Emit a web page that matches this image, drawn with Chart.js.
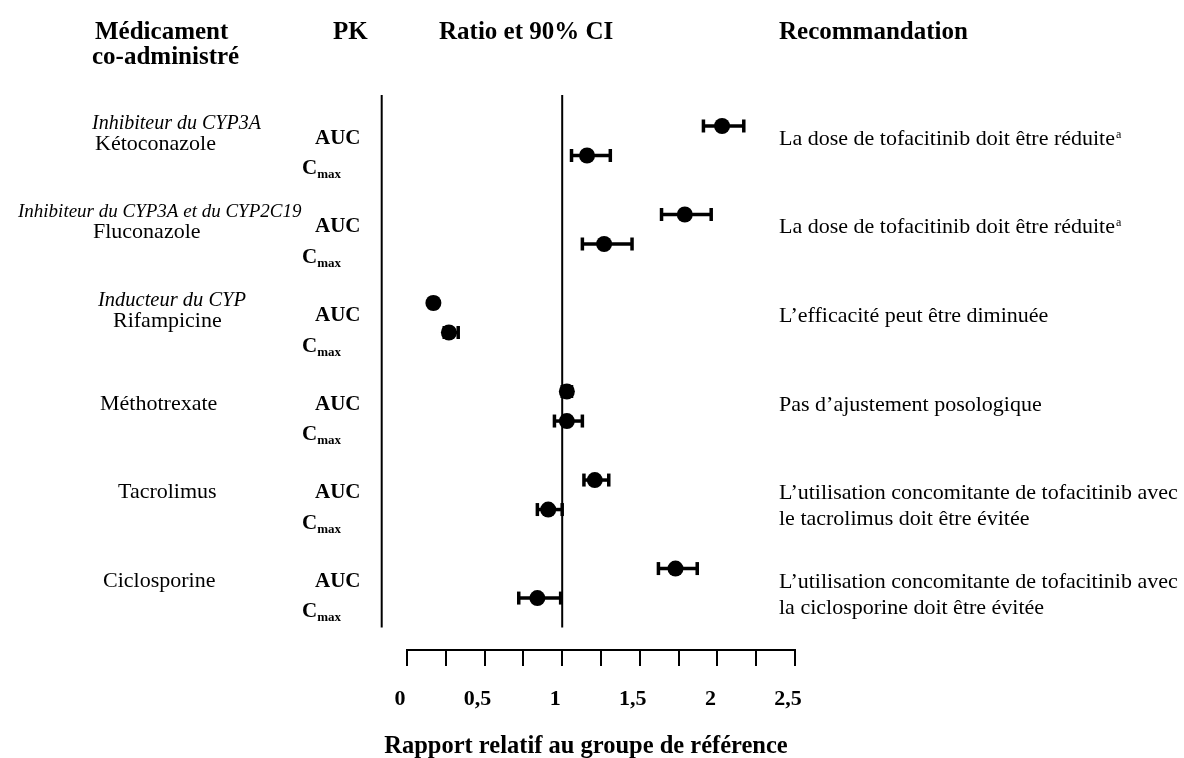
<!DOCTYPE html>
<html lang="fr">
<head>
<meta charset="UTF-8">
<title>Tofacitinib - interactions médicamenteuses</title>
<script src="https://cdn.jsdelivr.net/npm/chart.js"></script>
<style>
  body { margin: 0; background: #fff; }
  #wrap { width: 1184px; height: 758px; }
</style>
</head>
<body>
<div id="wrap"><canvas id="forest"></canvas></div>
<script>
// valeurs (rapport et IC 90%)
const drugs = ['Kétoconazole', 'Fluconazole', 'Rifampicine', 'Méthotrexate', 'Tacrolimus', 'Ciclosporine'];
const drugClasses = ['Inhibiteur du CYP3A', 'Inhibiteur du CYP3A et du CYP2C19', 'Inducteur du CYP', '', '', ''];
const pkParams = ['AUC', 'Cmax'];
const aucRatio = [2.03, 1.79, 0.17, 1.03, 1.21, 1.73];
const aucLow   = [1.91, 1.64, 0.15, 1.00, 1.14, 1.62];
const aucHigh  = [2.17, 1.96, 0.19, 1.06, 1.30, 1.87];
const cmaxRatio = [1.16, 1.27, 0.27, 1.03, 0.91, 0.84];
const cmaxLow   = [1.06, 1.13, 0.24, 0.95, 0.84, 0.72];
const cmaxHigh  = [1.31, 1.45, 0.33, 1.13, 1.00, 0.99];
const recommendations = [
  ['La dose de tofacitinib doit être réduite'],
  ['La dose de tofacitinib doit être réduite'],
  ['L’efficacité peut être diminuée'],
  ['Pas d’ajustement posologique'],
  ['L’utilisation concomitante de tofacitinib avec', 'le tacrolimus doit être évitée'],
  ['L’utilisation concomitante de tofacitinib avec', 'la ciclosporine doit être évitée']
];
const footnotes = ['a', 'a', '', '', '', ''];
const xTickLabels = [0, 0.5, 1, 1.5, 2, 2.5];
const referenceRatio = 1;
const headers = ['Médicament', 'co-administré', 'PK', 'Ratio et 90% CI', 'Recommandation'];
const xTitle = 'Rapport relatif au groupe de référence';

const serif = '"Liberation Serif", "Times New Roman", serif';
const yMin = -1.05, yMax = 17.76, lineEnd = 17;
const frameX = -0.163;
const row = (i, j) => i * 3 + j;

const ciSets = [];
drugs.forEach((d, i) => {
  [[aucLow, aucHigh], [cmaxLow, cmaxHigh]].forEach(([lo, hi], j) => {
    ciSets.push({
      type: 'line',
      data: [{x: lo[i], y: row(i, j)}, {x: hi[i], y: row(i, j)}],
      borderColor: '#000',
      borderWidth: 3.5,
      pointStyle: 'line',
      pointRotation: 90,
      pointRadius: 6.5,
      pointBorderWidth: 3.5,
      pointBorderColor: '#000',
      clip: false,
      order: 1
    });
  });
});

const points = [];
drugs.forEach((d, i) => {
  points.push({x: aucRatio[i], y: row(i, 0)});
  points.push({x: cmaxRatio[i], y: row(i, 1)});
});

const vline = (x) => ({
  type: 'line',
  indexAxis: 'y',
  data: [{x: x, y: yMin}, {x: x, y: lineEnd}],
  borderColor: '#000',
  borderWidth: 2,
  pointRadius: 0,
  clip: false,
  order: 2
});

// texte du tableau (colonnes gauche et droite) et titre de l'axe
const tableText = {
  id: 'tableText',
  afterDraw(chart) {
    const {ctx, scales: {y}} = chart;
    ctx.save();
    ctx.fillStyle = '#000';
    ctx.textAlign = 'left';
    ctx.textBaseline = 'alphabetic';

    ctx.font = `bold 25px ${serif}`;
    ctx.fillText(headers[0], 95, 39);
    ctx.fillText(headers[1], 92, 64);
    ctx.fillText(headers[2], 333, 39);
    ctx.fillText(headers[3], 439, 39);
    ctx.fillText(headers[4], 779, 39);

    const classX = [92, 18, 98];
    const classSize = [20, 19, 20.5];
    const nameX = [95, 93, 113, 100, 118, 103];

    drugs.forEach((name, i) => {
      const yA = y.getPixelForValue(row(i, 0));
      const yC = y.getPixelForValue(row(i, 1));

      if (drugClasses[i]) {
        ctx.font = `italic ${classSize[i]}px ${serif}`;
        ctx.fillText(drugClasses[i], classX[i], yA + 3);
        ctx.font = `22px ${serif}`;
        ctx.fillText(name, nameX[i], yA + 24);
      } else {
        ctx.font = `22px ${serif}`;
        ctx.fillText(name, nameX[i], yA + 18);
      }

      ctx.font = `bold 21px ${serif}`;
      ctx.fillText(pkParams[0], 315, yA + 18);
      const c = pkParams[1].charAt(0);
      ctx.fillText(c, 302, yC + 19);
      const cw = ctx.measureText(c).width;
      ctx.font = `bold 13px ${serif}`;
      ctx.fillText(pkParams[1].slice(1), 302 + cw, yC + 23);

      ctx.font = `22px ${serif}`;
      recommendations[i].forEach((line, k) => {
        ctx.fillText(line, 779, yA + 19 + k * 26);
      });
      if (footnotes[i]) {
        const w = ctx.measureText(recommendations[i][0]).width;
        ctx.font = `12px ${serif}`;
        ctx.fillText(footnotes[i], 780 + w, yA + 12);
      }
    });

    ctx.font = `bold 24.5px ${serif}`;
    ctx.textAlign = 'center';
    ctx.fillText(xTitle, 586, 753);
    ctx.restore();
  }
};

new Chart(document.getElementById('forest'), {
  type: 'scatter',
  data: {
    datasets: [
      {
        data: points,
        pointRadius: 8,
        pointBackgroundColor: '#000',
        pointBorderColor: '#000',
        pointBorderWidth: 0,
        order: 0
      },
      ...ciSets,
      vline(frameX),
      vline(referenceRatio)
    ]
  },
  options: {
    responsive: true,
    maintainAspectRatio: false,
    animation: false,
    layout: { padding: { left: 407, right: 389, top: 95, bottom: 0 } },
    plugins: { legend: { display: false }, tooltip: { enabled: false } },
    scales: {
      x: {
        type: 'linear',
        min: 0,
        max: 2.5,
        position: 'bottom',
        afterFit: s => { s.height = 108; },
        border: { display: true, color: '#000', width: 2 },
        grid: { drawOnChartArea: false, drawTicks: true, tickLength: 16, color: '#000', lineWidth: 2 },
        ticks: {
          stepSize: 0.25,
          autoSkip: false,
          maxRotation: 0,
          padding: 20,
          labelOffset: -7,
          color: '#000',
          font: { family: serif, size: 22, weight: 'bold' },
          callback: v => xTickLabels.includes(v) ? String(v).replace('.', ',') : ''
        },
        title: { display: false, text: xTitle }
      },
      y: { type: 'linear', reverse: true, min: yMin, max: yMax, display: false }
    }
  },
  plugins: [tableText]
});
</script>
</body>
</html>
